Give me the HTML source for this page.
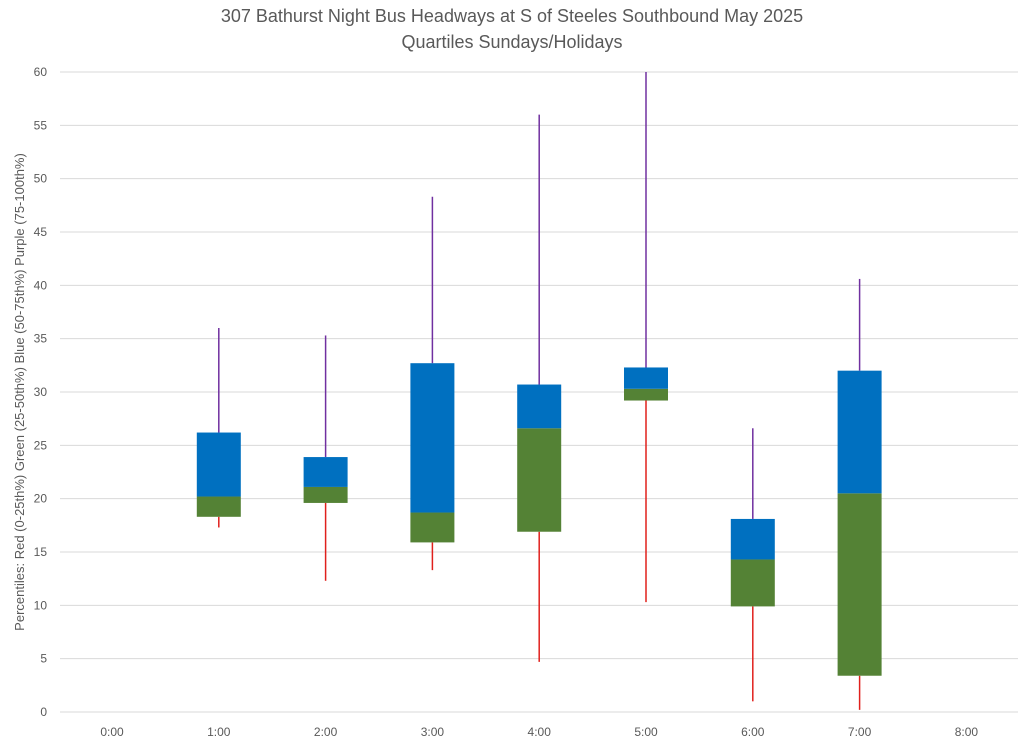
<!DOCTYPE html>
<html><head><meta charset="utf-8"><style>
body{margin:0;background:#fff;font-family:"Liberation Sans",sans-serif}
svg text{font-family:"Liberation Sans",sans-serif;fill:#595959}
</style></head><body>
<svg id="chart" width="1024" height="746" xmlns="http://www.w3.org/2000/svg">
<text x="512" y="22" text-anchor="middle" font-size="18">307 Bathurst Night Bus Headways at S of Steeles Southbound May 2025</text>
<text x="512" y="48" text-anchor="middle" font-size="18">Quartiles Sundays/Holidays</text>
<text transform="translate(24,392) rotate(-90)" text-anchor="middle" font-size="13">Percentiles:  Red (0-25th%)  Green (25-50th%)  Blue (50-75th%)  Purple (75-100th%)</text>
<g id="grid"></g><g id="marks"></g><g id="labels"></g>
</svg>
<script>
const categories=["0:00","1:00","2:00","3:00","4:00","5:00","6:00","7:00","8:00"];
const minVals=[null,17.3,12.3,13.3,4.7,10.3,1.0,0.2,null];
const q1Vals=[null,18.3,19.6,15.9,16.9,29.2,9.9,3.4,null];
const medVals=[null,20.2,21.1,18.7,26.6,30.3,14.3,20.5,null];
const q3Vals=[null,26.2,23.9,32.7,30.7,32.3,18.1,32.0,null];
const maxVals=[null,36.0,35.3,48.3,56.0,60.0,26.6,40.6,null];
const yTicks=[0,5,10,15,20,25,30,35,40,45,50,55,60];
const NS="http://www.w3.org/2000/svg";
const y0=712,yTop=72,yMax=60;
const y=v=>y0-(v/yMax)*(y0-yTop);
const x=i=>112+i*106.8;
function mk(tag,attrs,parent){const e=document.createElementNS(NS,tag);for(const k in attrs)e.setAttribute(k,attrs[k]);document.getElementById(parent).appendChild(e);return e;}
yTicks.forEach(t=>{
 const l=mk("line",{x1:60,x2:1018,y1:y(t),y2:y(t),stroke:"#d9d9d9","stroke-width":1},"grid");
 
 
 const tx=mk("text",{x:47,y:y(t)+4,"text-anchor":"end","font-size":12},"labels");
 tx.textContent=t;
 
 
});
categories.forEach((c,i)=>{
 const tx=mk("text",{x:x(i),y:736,"text-anchor":"middle","font-size":12},"labels");
 tx.textContent=c;
 
 
 if(minVals[i]==null)return;
 const w=44,cx=x(i);
 const lo=mk("line",{x1:cx,x2:cx,y1:y(minVals[i]),y2:y(q1Vals[i]),stroke:"#e0201c","stroke-width":1.5},"marks");
 
 
 const hi=mk("line",{x1:cx,x2:cx,y1:y(maxVals[i]),y2:y(q3Vals[i]),stroke:"#7030a0","stroke-width":1.5},"marks");
 
 
 const g=mk("rect",{x:cx-w/2,y:y(medVals[i]),width:w,height:y(q1Vals[i])-y(medVals[i]),fill:"#548235"},"marks");
 
 
 const b=mk("rect",{x:cx-w/2,y:y(q3Vals[i]),width:w,height:y(medVals[i])-y(q3Vals[i]),fill:"#0070c0"},"marks");
 
 
});
</script>
</body></html>
